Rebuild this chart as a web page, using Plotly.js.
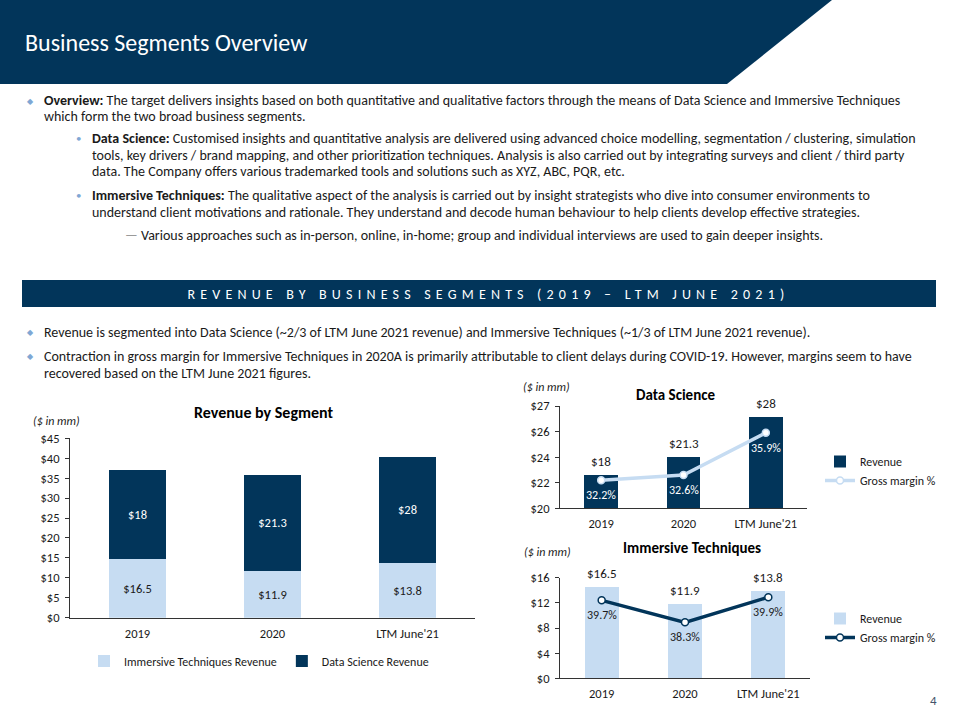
<!DOCTYPE html>
<html>
<head>
<meta charset="utf-8">
<script src="https://cdn.plot.ly/plotly-3.0.1.min.js"></script>
<style>
html,body{margin:0;padding:0;background:#fff;}
#chart{width:958px;height:718px;}
</style>
</head>
<body>
<div id="chart"></div>
<script>
// ---------- DATA ----------
const categories = ['2019', '2020', "LTM June'21"];

// Revenue by Segment (stacked) - bar heights as drawn, and their printed labels
const itRevenueBars = [14.6, 11.8, 13.8];
const dsRevenueBars = [22.5, 24.0, 26.5];
const itRevenueLabels = ['$16.5', '$11.9', '$13.8'];
const dsRevenueLabels = ['$18', '$21.3', '$28'];
const leftTickVals = [0, 5, 10, 15, 20, 25, 30, 35, 40, 45];
const leftTickText = ['$0', '$5', '$10', '$15', '$20', '$25', '$30', '$35', '$40', '$45'];

// Data Science chart
const dsChartBars = [22.6, 24.05, 27.15];
const dsChartLabels = ['$18', '$21.3', '$28'];
const dsMargin = [32.2, 32.6, 35.9];
const dsMarginLabels = ['32.2%', '32.6%', '35.9%'];
const dsTickVals = [20, 22, 24, 26, 28];
const dsTickText = ['$20', '$22', '$24', '$26', '$27'];

// Immersive Techniques chart
const itChartBars = [14.6, 11.8, 13.9];
const itChartLabels = ['$16.5', '$11.9', '$13.8'];
const itMargin = [39.7, 38.3, 39.9];
const itMarginLabels = ['39.7%', '38.3%', '39.9%'];
const itTickVals = [0, 4, 8, 12, 16];
const itTickText = ['$0', '$4', '$8', '$12', '$16'];

// ---------- STYLE ----------
const W = 958, H = 718;
const px = x => x / W;
const py = y => 1 - y / H;
const NAVY = '#02355A';
const LIGHT = '#C6DCF2';
const TXT = '#1a1a1a';
const FONT = 'Calibri, Carlito, Lato, sans-serif';
const BUL = '#7FA7D4';
const BODY = 14;

const traces = [
  {type: 'bar', x: categories, y: itRevenueBars, name: 'Immersive Techniques Revenue',
   marker: {color: LIGHT}, width: 0.415, text: itRevenueLabels, texttemplate: '%{text}',
   textposition: 'inside', insidetextanchor: 'middle', textangle: 0,
   textfont: {color: TXT, size: 12.5, family: FONT}, xaxis: 'x', yaxis: 'y', legend: 'legend', hoverinfo: 'skip'},
  {type: 'bar', x: categories, y: dsRevenueBars, name: 'Data Science Revenue',
   marker: {color: NAVY}, width: 0.415, text: dsRevenueLabels, texttemplate: '%{text}',
   textposition: 'inside', insidetextanchor: 'middle', textangle: 0,
   textfont: {color: '#ffffff', size: 12.5, family: FONT}, xaxis: 'x', yaxis: 'y', legend: 'legend', hoverinfo: 'skip'},

  {type: 'bar', x: categories, y: dsChartBars, name: 'Revenue', marker: {color: NAVY}, width: 0.41,
   xaxis: 'x2', yaxis: 'y2', legend: 'legend2', hoverinfo: 'skip'},
  {type: 'scatter', mode: 'lines+markers', x: categories, y: dsMargin, name: 'Gross margin %',
   line: {color: LIGHT, width: 3.5}, marker: {size: 7, color: '#ffffff', line: {color: LIGHT, width: 1.5}},
   xaxis: 'x2', yaxis: 'y3', legend: 'legend2', hoverinfo: 'skip'},

  {type: 'bar', x: categories, y: itChartBars, name: 'Revenue', marker: {color: LIGHT}, width: 0.41,
   xaxis: 'x3', yaxis: 'y4', legend: 'legend3', hoverinfo: 'skip'},
  {type: 'scatter', mode: 'lines+markers', x: categories, y: itMargin, name: 'Gross margin %',
   line: {color: NAVY, width: 3.5}, marker: {size: 7, color: '#ffffff', line: {color: NAVY, width: 1.5}},
   xaxis: 'x3', yaxis: 'y5', legend: 'legend3', hoverinfo: 'skip'}
];

const annotations = [];
function txt(x, y, text, opt) {
  annotations.push(Object.assign({xref: 'paper', yref: 'paper', x: px(x), y: py(y), text: text,
    showarrow: false, xanchor: 'left', yanchor: 'middle', align: 'left', borderpad: 0,
    font: {family: FONT, size: BODY, color: TXT}}, opt || {}));
}

// Header
txt(24, 42, 'Business Segments Overview', {font: {family: FONT, size: 24, color: '#ffffff'}});

// Overview bullets
const diamond = {font: {family: FONT, size: 8, color: BUL}, xanchor: 'center'};
const dot = {font: {family: FONT, size: 11, color: BUL}, xanchor: 'center'};
txt(30, 101, '◆', diamond);
txt(43, 101, '<b>Overview:</b> The target delivers insights based on both quantitative and qualitative factors through the means of Data Science and Immersive Techniques');
txt(43, 117, 'which form the two broad business segments.');
txt(78, 139, '•', dot);
txt(91, 139, '<b>Data Science:</b> Customised insights and quantitative analysis are delivered using advanced choice modelling, segmentation / clustering, simulation');
txt(91, 155.5, 'tools, key drivers / brand mapping, and other prioritization techniques. Analysis is also carried out by integrating surveys and client / third party');
txt(91, 172, 'data. The Company offers various trademarked tools and solutions such as XYZ, ABC, PQR, etc.');
txt(78, 195, '•', dot);
txt(91, 195, '<b>Immersive Techniques:</b> The qualitative aspect of the analysis is carried out by insight strategists who dive into consumer environments to');
txt(91, 212, 'understand client motivations and rationale. They understand and decode human behaviour to help clients develop effective strategies.');
txt(124, 236, '—', {font: {family: FONT, size: BODY, color: '#9a9a9a'}});
txt(140, 236, 'Various approaches such as in-person, online, in-home; group and individual interviews are used to gain deeper insights.');

// Banner title
txt(488, 294, 'REVENUE BY BUSINESS SEGMENTS (2019 – LTM JUNE 2021)',
  {xanchor: 'center', align: 'center', font: {family: FONT, size: 14, color: '#ffffff'}});

// Revenue bullets
txt(30, 332, '◆', diamond);
txt(43, 332, 'Revenue is segmented into Data Science (~2/3 of LTM June 2021 revenue) and Immersive Techniques (~1/3 of LTM June 2021 revenue).');
txt(30, 356, '◆', diamond);
txt(43, 356, 'Contraction in gross margin for Immersive Techniques in 2020A is primarily attributable to client delays during COVID-19. However, margins seem to have');
txt(43, 373, 'recovered based on the LTM June 2021 figures.');

// Chart titles and unit notes
txt(263, 412, '<b>Revenue by Segment</b>', {xanchor: 'center', font: {family: FONT, size: 16, color: '#000'}});
txt(32, 421, '<i>($ in mm)</i>', {font: {family: FONT, size: 12, color: TXT}});
txt(675, 395, '<b>Data Science</b>', {xanchor: 'center', font: {family: FONT, size: 15, color: '#000'}});
txt(522, 387, '<i>($ in mm)</i>', {font: {family: FONT, size: 12, color: TXT}});
txt(692, 548, '<b>Immersive Techniques</b>', {xanchor: 'center', font: {family: FONT, size: 15, color: '#000'}});
txt(523, 552, '<i>($ in mm)</i>', {font: {family: FONT, size: 12, color: TXT}});

// Page number
txt(933, 700, '4', {xanchor: 'center', font: {family: FONT, size: 13, color: '#44546A'}});

// Data labels on the right charts (positioned through the chart axes; x = category index)
categories.forEach((c, i) => {
  annotations.push({xref: 'x2', yref: 'y2', x: i, y: dsChartBars[i], text: dsChartLabels[i], showarrow: false,
    yanchor: 'bottom', yshift: 4, font: {family: FONT, size: 13, color: TXT}});
  annotations.push({xref: 'x2', yref: 'y3', x: i, y: dsMargin[i], text: dsMarginLabels[i], showarrow: false,
    yanchor: 'top', yshift: -6, font: {family: FONT, size: 12, color: '#ffffff'}});
  annotations.push({xref: 'x3', yref: 'y4', x: i, y: itChartBars[i], text: itChartLabels[i], showarrow: false,
    yanchor: 'bottom', yshift: 4, font: {family: FONT, size: 13, color: TXT}});
  annotations.push({xref: 'x3', yref: 'y5', x: i, y: itMargin[i], text: itMarginLabels[i], showarrow: false,
    yanchor: 'top', yshift: -6, font: {family: FONT, size: 12, color: TXT}});
});

const shapes = [
  {type: 'path', xref: 'paper', yref: 'paper',
   path: `M 0 1 L ${px(832)} 1 L ${px(727)} ${py(84)} L 0 ${py(84)} Z`,
   fillcolor: NAVY, line: {width: 0}, layer: 'below'},
  {type: 'rect', xref: 'paper', yref: 'paper', x0: px(22), x1: px(936), y0: py(307), y1: py(280),
   fillcolor: NAVY, line: {width: 0}, layer: 'below'}
];

function xAxis(extra) {
  return Object.assign({type: 'category', showline: true, linecolor: '#333', linewidth: 1, ticks: '',
    showgrid: false, zeroline: false, fixedrange: true, tickfont: {family: FONT, size: 12.5, color: TXT},
    ticklabelstandoff: 4}, extra);
}
function yAxis(extra) {
  return Object.assign({showline: true, linecolor: '#333', linewidth: 1, ticks: 'outside', ticklen: 4,
    tickcolor: '#333', showgrid: false, zeroline: false, fixedrange: true,
    tickfont: {family: FONT, size: 12.5, color: TXT}, ticklabelstandoff: 3}, extra);
}
function legendAt(x, y, orient) {
  return {x: px(x), y: py(y), xanchor: 'left', yanchor: 'middle', orientation: orient,
    traceorder: 'normal', font: {family: FONT, size: 12, color: TXT}, bgcolor: 'rgba(0,0,0,0)',
    itemwidth: 30, tracegroupgap: 0};
}

const layout = {
  width: W, height: H, margin: {l: 0, r: 0, t: 0, b: 0},
  paper_bgcolor: '#ffffff', plot_bgcolor: 'rgba(0,0,0,0)',
  font: {family: FONT, color: TXT},
  barmode: 'stack',
  showlegend: true,
  xaxis: xAxis({domain: [px(70), px(475)], anchor: 'y'}),
  yaxis: yAxis({domain: [py(617.7), py(438.3)], anchor: 'x', range: [0, 45],
    tickvals: leftTickVals, ticktext: leftTickText}),
  xaxis2: xAxis({domain: [px(560), px(807)], anchor: 'y2', range: [-0.5, 2.5]}),
  yaxis2: yAxis({domain: [py(508.3), py(406)], anchor: 'x2', range: [20, 28],
    tickvals: dsTickVals, ticktext: dsTickText}),
  yaxis3: {overlaying: 'y2', anchor: 'x2', range: [30, 38], visible: false, fixedrange: true},
  xaxis3: xAxis({domain: [px(560), px(810)], anchor: 'y4', range: [-0.5, 2.5]}),
  yaxis4: yAxis({domain: [py(678.3), py(577.7)], anchor: 'x3', range: [0, 16],
    tickvals: itTickVals, ticktext: itTickText}),
  yaxis5: {overlaying: 'y4', anchor: 'x3', range: [34.74, 41.14], visible: false, fixedrange: true},
  legend: legendAt(84, 661, 'h'),
  legend2: legendAt(820, 471, 'v'),
  legend3: legendAt(820, 628, 'v'),
  shapes: shapes,
  annotations: annotations,
  hovermode: false
};

Plotly.newPlot('chart', traces, layout, {staticPlot: true, displayModeBar: false}).then(gd => {
  gd.querySelectorAll('.annotation-text').forEach(t => {
    if (t.textContent.indexOf('REVENUE BY') === 0) {
      t.style.letterSpacing = '5.2px';
    }
  });
});
</script>
</body>
</html>
